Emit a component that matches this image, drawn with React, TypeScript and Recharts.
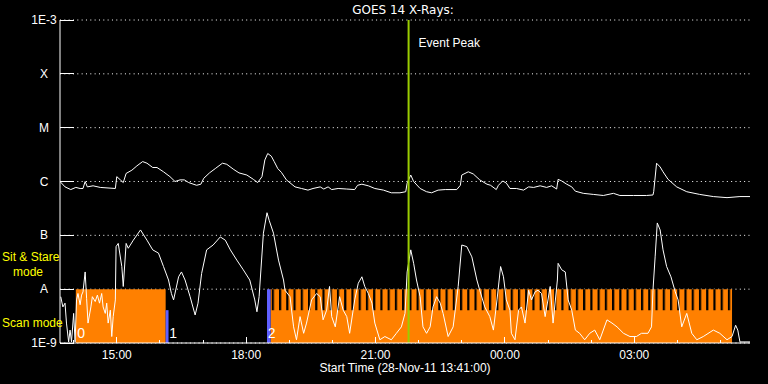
import React from 'react';
import { ComposedChart, Line, XAxis, YAxis, CartesianGrid, ReferenceArea, ReferenceLine, ReferenceDot } from 'recharts';

// time axis: minutes after the start time, flux values: log10(W/m^2)
const START = '13:41';
const SPAN = 960;

const hourLabels = ['14:00', '15:00', '16:00', '17:00', '18:00', '19:00', '20:00', '21:00', '22:00', '23:00', '00:00', '01:00', '02:00', '03:00', '04:00', '05:00'];
const majorLabels = ['15:00', '18:00', '21:00', '00:00', '03:00'];

const levelTicks = [-9, -8, -7, -6, -5, -4, -3];
const levelNames = ['1E-9', 'A', 'B', 'C', 'M', 'X', '1E-3'];

const eventPeak = '21:46';

// 1-8 A channel [minute, log flux]
const longLog: [number, number][] = [
  [0, -6.0], [7, -6.1], [15, -6.15], [22, -6.11], [28, -6.13], [32, -6.13], [35, -6.0], [38, -6.1], [46, -6.08], [56, -6.11],
  [77, -6.13], [79, -5.91], [84, -5.97], [88, -6.02], [92, -5.85], [100, -5.79], [107, -5.71], [115, -5.63], [121, -5.66], [129, -5.74],
  [135, -5.74], [144, -5.82], [153, -5.91], [160, -6.0], [167, -5.97], [173, -5.97], [179, -6.02], [190, -6.07], [196, -6.05], [200, -5.94],
  [208, -5.84], [216, -5.76], [226, -5.66], [232, -5.68], [241, -5.77], [249, -5.84], [260, -5.88], [269, -5.96], [275, -6.02], [281, -5.91],
  [285, -5.6], [289, -5.48], [294, -5.53], [298, -5.63], [303, -5.76], [308, -5.83], [315, -5.97], [327, -6.1], [336, -6.13], [345, -6.16],
  [352, -6.13], [362, -6.1], [367, -6.14], [373, -6.1], [378, -6.15], [387, -6.13], [399, -6.14], [410, -6.15], [414, -6.07], [420, -6.05],
  [429, -6.08], [438, -6.13], [450, -6.16], [461, -6.21], [473, -6.21], [481, -6.19], [483, -6.03], [488, -5.88], [492, -6.0], [501, -6.13],
  [510, -6.19], [517, -6.21], [526, -6.16], [536, -6.15], [552, -6.15], [557, -6.07], [559, -5.88], [568, -5.82], [575, -5.86], [584, -5.97],
  [594, -6.05], [599, -6.07], [607, -6.15], [610, -6.07], [616, -5.99], [621, -6.03], [626, -6.13], [635, -6.13], [645, -6.16], [652, -6.1],
  [659, -6.11], [668, -6.08], [677, -6.11], [684, -6.08], [691, -6.14], [693, -5.96], [698, -5.99], [705, -6.05], [712, -6.1], [717, -6.18],
  [728, -6.22], [742, -6.24], [756, -6.26], [770, -6.22], [779, -6.26], [798, -6.26], [816, -6.26], [825, -6.25], [826, -6.19], [830, -5.66],
  [835, -5.73], [839, -5.82], [846, -5.96], [858, -6.1], [872, -6.19], [890, -6.24], [909, -6.28], [928, -6.3], [946, -6.28], [960, -6.28],
];

// 0.5-4 A channel [minute, log flux]
const shortLog: [number, number][] = [
  [1, -8.14], [4, -8.33], [7, -8.26], [9, -8.63], [12, -8.98], [14, -8.76], [16, -8.98], [19, -8.45], [21, -8.98], [23, -8.2],
  [25, -8.08], [28, -8.29], [30, -8.11], [32, -8.05], [35, -7.68], [37, -8.17], [39, -8.63], [43, -8.33], [45, -8.14], [49, -8.23],
  [52, -8.11], [55, -8.26], [58, -8.08], [60, -8.33], [63, -8.45], [65, -8.26], [67, -8.63], [70, -8.39], [72, -8.88], [74, -8.51],
  [77, -8.2], [78, -7.21], [81, -7.15], [86, -7.58], [88, -7.95], [92, -7.15], [95, -7.24], [102, -7.09], [112, -6.9], [121, -7.09],
  [129, -7.27], [137, -7.33], [144, -7.58], [151, -7.83], [155, -8.08], [158, -8.2], [165, -7.77], [169, -7.68], [174, -7.83], [181, -8.14],
  [188, -8.48], [192, -8.26], [197, -7.71], [204, -7.27], [213, -7.18], [223, -7.03], [230, -7.09], [237, -7.27], [246, -7.46], [255, -7.64],
  [264, -7.83], [271, -8.2], [274, -8.42], [277, -8.14], [283, -6.96], [288, -6.58], [291, -6.72], [297, -6.96], [304, -7.46], [311, -7.83],
  [313, -8.02], [320, -8.14], [325, -8.7], [329, -8.94], [334, -8.51], [339, -8.82], [343, -8.63], [350, -8.2], [357, -8.08], [362, -8.14],
  [366, -8.57], [371, -8.39], [375, -7.95], [378, -8.51], [383, -8.7], [389, -8.14], [394, -8.39], [399, -8.51], [403, -8.82], [410, -8.2],
  [415, -7.89], [420, -7.77], [424, -7.95], [429, -8.08], [434, -8.26], [438, -8.63], [445, -8.94], [452, -8.88], [461, -8.94], [468, -8.82],
  [475, -8.7], [480, -8.45], [483, -7.68], [488, -7.27], [492, -7.52], [496, -7.83], [501, -8.14], [505, -8.7], [510, -8.82], [515, -8.7],
  [519, -8.33], [524, -8.14], [529, -8.26], [533, -8.45], [540, -8.88], [547, -8.7], [554, -7.95], [559, -7.18], [566, -7.21], [573, -7.4],
  [580, -7.83], [584, -8.02], [591, -8.33], [598, -8.51], [603, -8.76], [608, -8.2], [613, -7.58], [617, -7.77], [621, -8.2], [626, -8.39],
  [628, -8.82], [633, -8.94], [638, -8.39], [642, -8.33], [647, -8.63], [652, -8.02], [656, -8.2], [661, -8.05], [665, -8.02], [670, -8.08],
  [675, -8.51], [682, -7.95], [686, -8.63], [692, -7.83], [693, -7.52], [698, -7.64], [703, -7.68], [707, -8.2], [712, -8.39], [717, -8.76],
  [723, -8.82], [730, -8.94], [737, -8.82], [744, -8.76], [751, -8.94], [761, -8.57], [768, -8.63], [775, -8.7], [784, -8.82], [793, -8.88],
  [802, -8.88], [809, -8.82], [818, -8.82], [823, -8.7], [825, -8.02], [828, -7.4], [831, -6.77], [835, -6.9], [839, -7.27], [844, -7.58],
  [850, -7.77], [856, -8.05], [860, -8.2], [865, -8.7], [872, -8.45], [879, -8.82], [886, -8.94], [895, -8.88], [909, -8.76], [918, -8.82],
  [928, -8.94], [935, -8.88], [940, -8.67], [943, -8.76], [946, -8.98], [960, -8.98],
];

// scan mode segments, minutes after start
const scanFrom = [22, 293];
const scanTo = [147, 935];
const stripedFrom = 293;
const stripedTo = 935;

// mode change markers
const modeFrom = [147, 288];
const modeTo = [151, 293];
const modeTop = [-8.39, -8];
const modeLabelAt = [24, 152, 289];
const modeLabels = ['0', '1', '2'];

const toMinutes = (clock: string) => {
  const [h, m] = clock.split(':').map(Number);
  return h * 60 + m;
};
const offset = (clock: string) => (toMinutes(clock) - toMinutes(START) + 1440) % 1440;

const hourTicks = hourLabels.map(offset);
const longSeries = longLog.map(([t, v]) => ({ t, v }));
const shortSeries = shortLog.map(([t, v]) => ({ t, v }));

const FONT = '"Liberation Sans", Arial, sans-serif';
const ORANGE = '#ff8000';
const BLUE = '#6060ff';

const clockOf = (t: number) => hourLabels[hourTicks.indexOf(t)];

const BottomTick = (p: any) => {
  const label = clockOf(p.payload.value);
  const major = majorLabels.includes(label);
  return (
    <g>
      <line x1={p.x} x2={p.x} y1={p.y} y2={p.y - (major ? 6 : 3)} stroke="#fff" shapeRendering="crispEdges" />
      {major && (
        <text x={p.x} y={p.y + 16} textAnchor="middle" fill="#fff" fontSize={12} fontFamily={FONT}>
          {label}
        </text>
      )}
    </g>
  );
};

const TopTick = (p: any) => {
  const major = majorLabels.includes(clockOf(p.payload.value));
  return <line x1={p.x} x2={p.x} y1={p.y} y2={p.y + (major ? 6 : 3)} stroke="#fff" shapeRendering="crispEdges" />;
};

const LeftTick = (p: any) => {
  const name = levelNames[levelTicks.indexOf(p.payload.value)];
  return (
    <g>
      <line x1={p.x} x2={p.x + 14} y1={p.y} y2={p.y} stroke="#fff" shapeRendering="crispEdges" />
      <text x={p.x - 16} y={p.y + 4} textAnchor="middle" fill="#fff" fontSize={12} fontFamily={FONT}>
        {name}
      </text>
    </g>
  );
};

const RightTick = (p: any) => (
  <line x1={p.x - 14} x2={p.x} y1={p.y} y2={p.y} stroke="#fff" shapeRendering="crispEdges" />
);

export default function App() {
  return (
    <div style={{ position: 'absolute', left: 0, top: 0, width: 768, height: 384, background: '#000' }}>
      <ComposedChart width={768} height={384} margin={{ top: 20, right: 18, bottom: 0, left: 0 }}>
        <defs>
          <pattern id="scanStripes" patternUnits="userSpaceOnUse" x={3.87} y={0} width={7.24} height={10}>
            <rect x={0} y={0} width={2.2} height={10} fill="#000" />
          </pattern>
        </defs>
        <CartesianGrid horizontal vertical={false} stroke="#fff" strokeDasharray="1 3.33" />
        <XAxis
          dataKey="t"
          type="number"
          domain={[0, SPAN]}
          allowDataOverflow
          ticks={hourTicks}
          interval={0}
          height={41}
          tickSize={0}
          tickMargin={0}
          stroke="#fff"
          tick={BottomTick}
        />
        <XAxis
          xAxisId="top"
          orientation="top"
          dataKey="t"
          type="number"
          domain={[0, SPAN]}
          allowDataOverflow
          ticks={hourTicks}
          interval={0}
          height={0}
          tickSize={0}
          tickMargin={0}
          stroke="#fff"
          tick={TopTick}
        />
        <YAxis
          type="number"
          domain={[-9, -3]}
          allowDataOverflow
          ticks={levelTicks}
          interval={0}
          width={60}
          tickSize={0}
          tickMargin={0}
          stroke="#fff"
          tick={LeftTick}
        />
        <YAxis
          yAxisId="right"
          orientation="right"
          type="number"
          domain={[-9, -3]}
          allowDataOverflow
          ticks={levelTicks}
          interval={0}
          width={0}
          tickSize={0}
          tickMargin={0}
          stroke="#fff"
          tick={RightTick}
        />

        {scanFrom.map((from, i) => (
          <ReferenceArea key={'scan' + i} x1={from} x2={scanTo[i]} y1={-9} y2={-8} fill={ORANGE} fillOpacity={1} stroke="none" ifOverflow="hidden" />
        ))}
        <ReferenceArea x1={stripedFrom} x2={stripedTo} y1={-8.39} y2={-8} fill="url(#scanStripes)" fillOpacity={1} stroke="none" />
        {modeFrom.map((from, i) => (
          <ReferenceArea key={'mode' + i} x1={from} x2={modeTo[i]} y1={-9} y2={modeTop[i]} fill={BLUE} fillOpacity={1} stroke="none" />
        ))}

        <Line data={shortSeries} dataKey="v" type="linear" stroke="#fff" strokeWidth={1} dot={false} isAnimationActive={false} />
        <Line data={longSeries} dataKey="v" type="linear" stroke="#fff" strokeWidth={1} dot={false} isAnimationActive={false} />

        <ReferenceLine
          x={offset(eventPeak)}
          stroke="#9acd00"
          strokeWidth={2}
          label={{
            content: (props: any) => (
              <text x={props.viewBox.x + 10} y={props.viewBox.y + 27} fill="#fff" fontSize={12} fontFamily={FONT}>
                Event Peak
              </text>
            ),
          }}
        />

        {modeLabelAt.map((t, i) => (
          <ReferenceDot
            key={'lab' + i}
            x={t}
            y={-8.82}
            r={0}
            shape={(p: any) => (
              <text x={p.cx} y={p.cy + 5} fill="#fff" fontSize={14} fontFamily={FONT}>
                {modeLabels[i]}
              </text>
            )}
          />
        ))}
      </ComposedChart>

      <svg width={768} height={384} style={{ position: 'absolute', left: 0, top: 0, pointerEvents: 'none' }}>
        <text x={403} y={14} textAnchor="middle" fill="#fff" fontSize={12} fontFamily='"DejaVu Sans", sans-serif'>
          GOES 14 X-Rays:
        </text>
        <text x={405} y={372} textAnchor="middle" fill="#fff" fontSize={12} fontFamily={FONT}>
          Start Time (28-Nov-11 13:41:00)
        </text>
        <text x={2} y={261} fill="#ffff00" fontSize={12} fontFamily={FONT}>
          Sit &amp; Stare
        </text>
        <text x={13} y={276} fill="#ffff00" fontSize={12} fontFamily={FONT}>
          mode
        </text>
        <text x={2} y={327} fill="#ffff00" fontSize={12} fontFamily={FONT}>
          Scan mode
        </text>
      </svg>
    </div>
  );
}
